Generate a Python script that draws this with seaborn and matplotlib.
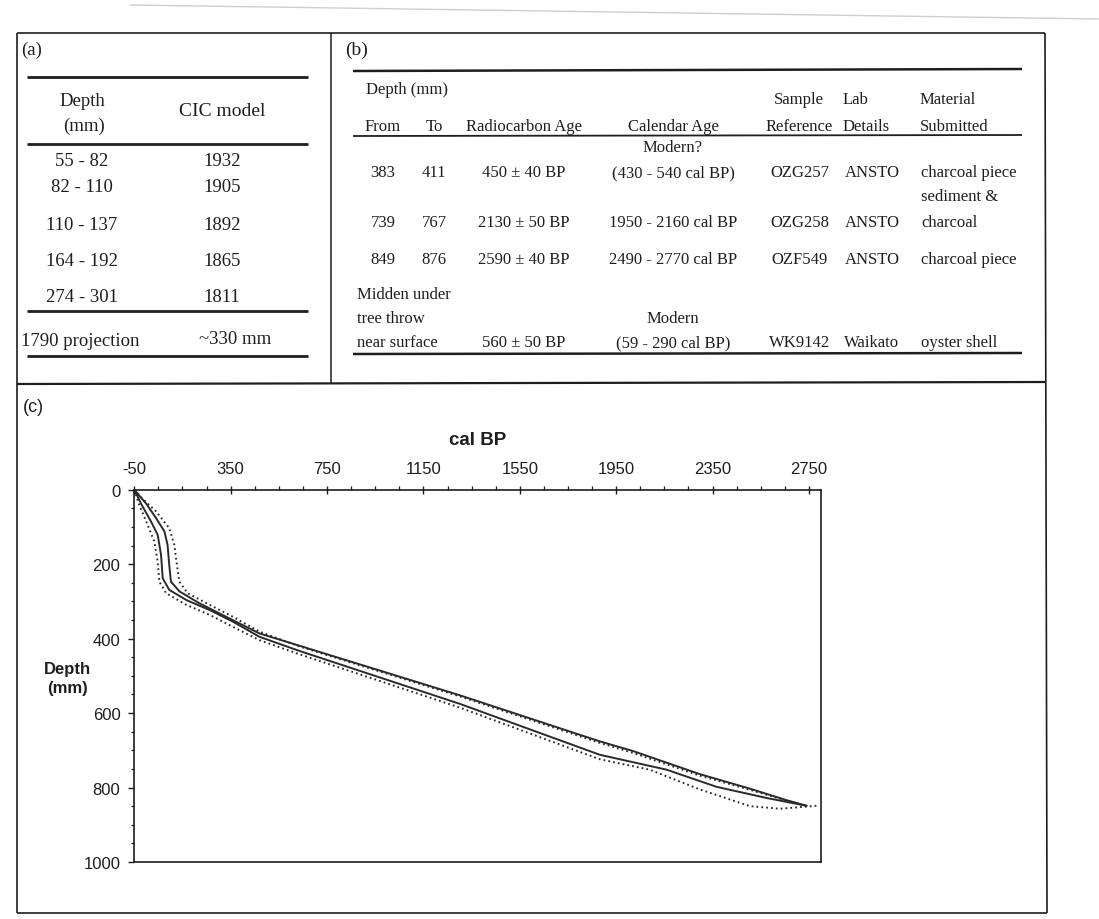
import numpy as np
import pandas as pd
import matplotlib
matplotlib.use("Agg")
import matplotlib.pyplot as plt
import seaborn as sns
from matplotlib.lines import Line2D
from matplotlib.ticker import FixedLocator

# ------------------------------------------------------------------ data
# (a) CIC model table
a_depth = ["55 - 82", "82 - 110", "110 - 137", "164 - 192", "274 - 301"]
a_cic = ["1932", "1905", "1892", "1865", "1811"]
a_proj_label = "1790 projection"
a_proj_value = "~330 mm"

# (b) radiocarbon table
b_from = ["383", "739", "849"]
b_to = ["411", "767", "876"]
b_radiocarbon = ["450 ± 40 BP", "2130 ± 50 BP", "2590 ± 40 BP", "560 ± 50 BP"]
b_calendar = ["(430 - 540 cal BP)", "1950 - 2160 cal BP", "2490 - 2770 cal BP", "(59 - 290 cal BP)"]
b_sample = ["OZG257", "OZG258", "OZF549", "WK9142"]
b_lab = ["ANSTO", "ANSTO", "ANSTO", "Waikato"]
b_material = ["charcoal piece", "charcoal", "charcoal piece", "oyster shell"]
b_material_extra = "sediment &"
b_midden = ["Midden under", "tree throw", "near surface"]

# (c) age-depth envelopes (cal BP vs depth mm)
old_2s_calbp = [-50, -20, 40, 95, 116, 123, 137, 171, 262, 358, 469, 635, 1300, 1882, 2020, 2297, 2505, 2657, 2740]
old_2s_depth = [0, 22, 58, 103, 148, 184, 247, 278, 309, 341, 381, 421, 555, 680, 707, 768, 806, 835, 849]
old_1s_calbp = [-50, 0, 40, 75, 88, 95, 102, 137, 220, 358, 469, 635, 1300, 1882, 2020, 2297, 2505, 2657, 2740]
old_1s_depth = [0, 38, 76, 112, 148, 202, 247, 273, 305, 350, 386, 419, 552, 676, 702, 764, 803, 834, 849]
young_1s_calbp = [-50, -20, 19, 47, 61, 68, 95, 165, 262, 358, 469, 635, 1300, 1882, 2159, 2366, 2574, 2740]
young_1s_depth = [0, 40, 85, 121, 175, 238, 269, 296, 323, 354, 395, 433, 575, 712, 752, 798, 828, 849]
young_2s_calbp = [-50, -30, 5, 33, 47, 54, 82, 165, 262, 358, 469, 635, 1300, 1882, 2089, 2297, 2505, 2629, 2782]
young_2s_depth = [0, 40, 94, 139, 193, 247, 278, 309, 336, 368, 404, 442, 585, 724, 752, 805, 850, 857, 849]

x_major = [-50, 350, 750, 1150, 1550, 1950, 2350, 2750]
y_major = [0, 200, 400, 600, 800, 1000]

# ------------------------------------------------------------------ style
sns.set_theme(style="white")
plt.rcParams["font.family"] = ["Liberation Sans", "DejaVu Sans"]
plt.rcParams["axes.unicode_minus"] = False
INK = "#1e1e1e"
SERIF = ["Liberation Serif", "DejaVu Serif"]

W, H = 1099, 920
fig = plt.figure(figsize=(W / 100, H / 100), dpi=100)
fig.patch.set_facecolor("white")


def fx(x):
    return x / W


def fy(y):
    return 1 - y / H


def seg(x0, y0, x1, y1, lw=1.1, color=INK):
    fig.add_artist(Line2D([fx(x0), fx(x1)], [fy(y0), fy(y1)],
                          transform=fig.transFigure, lw=lw, color=color,
                          solid_capstyle="butt"))


def txt(x, y, s, ha="center", size=13.5, family=SERIF, **kw):
    fig.text(fx(x), fy(y), s, ha=ha, va="center", fontsize=size,
             family=family, color=INK, **kw)


# scan edge shadow
seg(130, 6, 1099, 20, lw=1.0, color="#cfcfcf")

# panel frames
seg(17, 34, 1045, 34, 1.2)
seg(17, 34, 17, 914, 1.2)
seg(1045, 34, 1047, 914, 1.2)
seg(17, 914, 1047, 914, 1.2)
seg(331, 34, 331, 385, 1.1)
seg(17, 385, 1045, 383, 1.6)

# ------------------------------------------------------------------ table (a)
txt(32, 50, "(a)", size=13.5)
seg(27, 78, 308, 78, 2.0)
txt(82, 101, "Depth", size=13.5)
txt(84, 126, "(mm)", size=13.5)
txt(222, 112, "CIC model", size=14)
seg(27, 145, 308, 145, 2.0)
a_rows_y = [161, 188, 226, 262, 297]
for yy, d, c in zip(a_rows_y, a_depth, a_cic):
    txt(82, yy, d, size=13.5)
    txt(222, yy, c, size=13.5)
seg(27, 312, 308, 312, 2.0)
txt(80, 341, a_proj_label, size=13.5)
txt(235, 340, a_proj_value, size=13.5)
seg(27, 357, 308, 357, 2.0)

# ------------------------------------------------------------------ table (b)
SB = 12
txt(357, 50, "(b)", size=14)
seg(353, 72, 1022, 70, 1.8)
txt(366, 90, "Depth (mm)", ha="left", size=SB)
hdr_y = 127
txt(383, hdr_y, "From", size=SB)
txt(434, hdr_y, "To", size=SB)
txt(524, hdr_y, "Radiocarbon Age", size=SB)
txt(673, hdr_y, "Calendar Age", size=SB)
txt(799, 100, "Sample", size=SB)
txt(799, hdr_y, "Reference", size=SB)
txt(843, 100, "Lab", ha="left", size=SB)
txt(843, hdr_y, "Details", ha="left", size=SB)
txt(920, 100, "Material", ha="left", size=SB)
txt(920, hdr_y, "Submitted", ha="left", size=SB)
seg(353, 137, 1022, 136, 1.3)
txt(673, 148, "Modern?", size=SB)

b_rows_y = [173, 223, 260, 343]
for i, yy in enumerate(b_rows_y):
    if i < 3:
        txt(383, yy, b_from[i], size=SB)
        txt(434, yy, b_to[i], size=SB)
    txt(524, yy, b_radiocarbon[i], size=SB)
    txt(673, yy, b_calendar[i], size=SB)
    txt(800, yy, b_sample[i], size=SB)
    txt(872, yy, b_lab[i], size=SB)
    txt(921, yy, b_material[i], ha="left", size=SB)
txt(921, 197, b_material_extra, ha="left", size=SB)
for yy, s in zip([295, 319, 343], b_midden):
    txt(357, yy, s, ha="left", size=SB)
txt(673, 319, "Modern", size=SB)
seg(353, 355, 1022, 354, 1.8)

# ------------------------------------------------------------------ panel (c)
txt(33, 408, "(c)", size=13, family=["Liberation Sans", "DejaVu Sans"])

records = []
for name, xs, ys in [("old_2s", old_2s_calbp, old_2s_depth),
                     ("old_1s", old_1s_calbp, old_1s_depth),
                     ("young_1s", young_1s_calbp, young_1s_depth),
                     ("young_2s", young_2s_calbp, young_2s_depth)]:
    for i, (xv, yv) in enumerate(zip(xs, ys)):
        records.append({"series": name, "order": i, "cal_bp": xv, "depth": yv})
df = pd.DataFrame(records)

ax_l, ax_r, ax_t, ax_b = 134.3, 821.0, 490.7, 863.0
ax = fig.add_axes([fx(ax_l), fy(ax_b), (ax_r - ax_l) / W, (ax_b - ax_t) / H])

sns.lineplot(data=df, x="cal_bp", y="depth", hue="series", style="series",
             palette={"old_2s": "#2a2a2a", "old_1s": "#2a2a2a",
                      "young_1s": "#2a2a2a", "young_2s": "#2a2a2a"},
             dashes={"old_2s": (0.9, 1.6), "old_1s": "",
                     "young_1s": "", "young_2s": (0.9, 1.6)},
             sort=False, estimator=None, units="series", legend=False,
             linewidth=1.4, ax=ax)

ax.set_xlim(-50, 2800)
ax.set_ylim(1000, 0)
ax.xaxis.tick_top()
ax.xaxis.set_label_position("top")
ax.xaxis.set_major_locator(FixedLocator(x_major))
ax.xaxis.set_minor_locator(FixedLocator(np.arange(-50, 2800, 100)))
ax.yaxis.set_major_locator(FixedLocator(y_major))
ax.yaxis.set_minor_locator(FixedLocator(np.arange(0, 1001, 50)))
ax.tick_params(axis="x", which="major", direction="inout", length=6, width=1.0,
               pad=7, labelsize=12, colors=INK, top=True, bottom=False)
ax.tick_params(axis="x", which="minor", direction="out", length=3, width=0.9,
               colors=INK, top=True, bottom=False)
ax.tick_params(axis="y", which="major", direction="out", length=4, width=1.0,
               pad=6, labelsize=12, colors=INK, left=True)
ax.tick_params(axis="y", which="minor", direction="out", length=2.5, width=0.9,
               colors=INK, left=True)
for sp in ax.spines.values():
    sp.set_visible(True)
    sp.set_color(INK)
    sp.set_linewidth(1.2)

ax.set_xlabel("cal BP", fontsize=13.5, fontweight="bold", color=INK)
ax.xaxis.label.set_va("center")
ax.xaxis.set_label_coords(0.5, 1 + (ax_t - 441) / (ax_b - ax_t))
ax.set_ylabel("Depth\n(mm)", fontsize=12, fontweight="bold", color=INK,
              rotation=0, ha="center", va="center", linespacing=1.3)
ax.yaxis.set_label_coords((67 - ax_l) / (ax_r - ax_l), (ax_b - 679) / (ax_b - ax_t))
ax.set_facecolor("white")

fig.savefig("out.png", dpi=100, facecolor="white")
